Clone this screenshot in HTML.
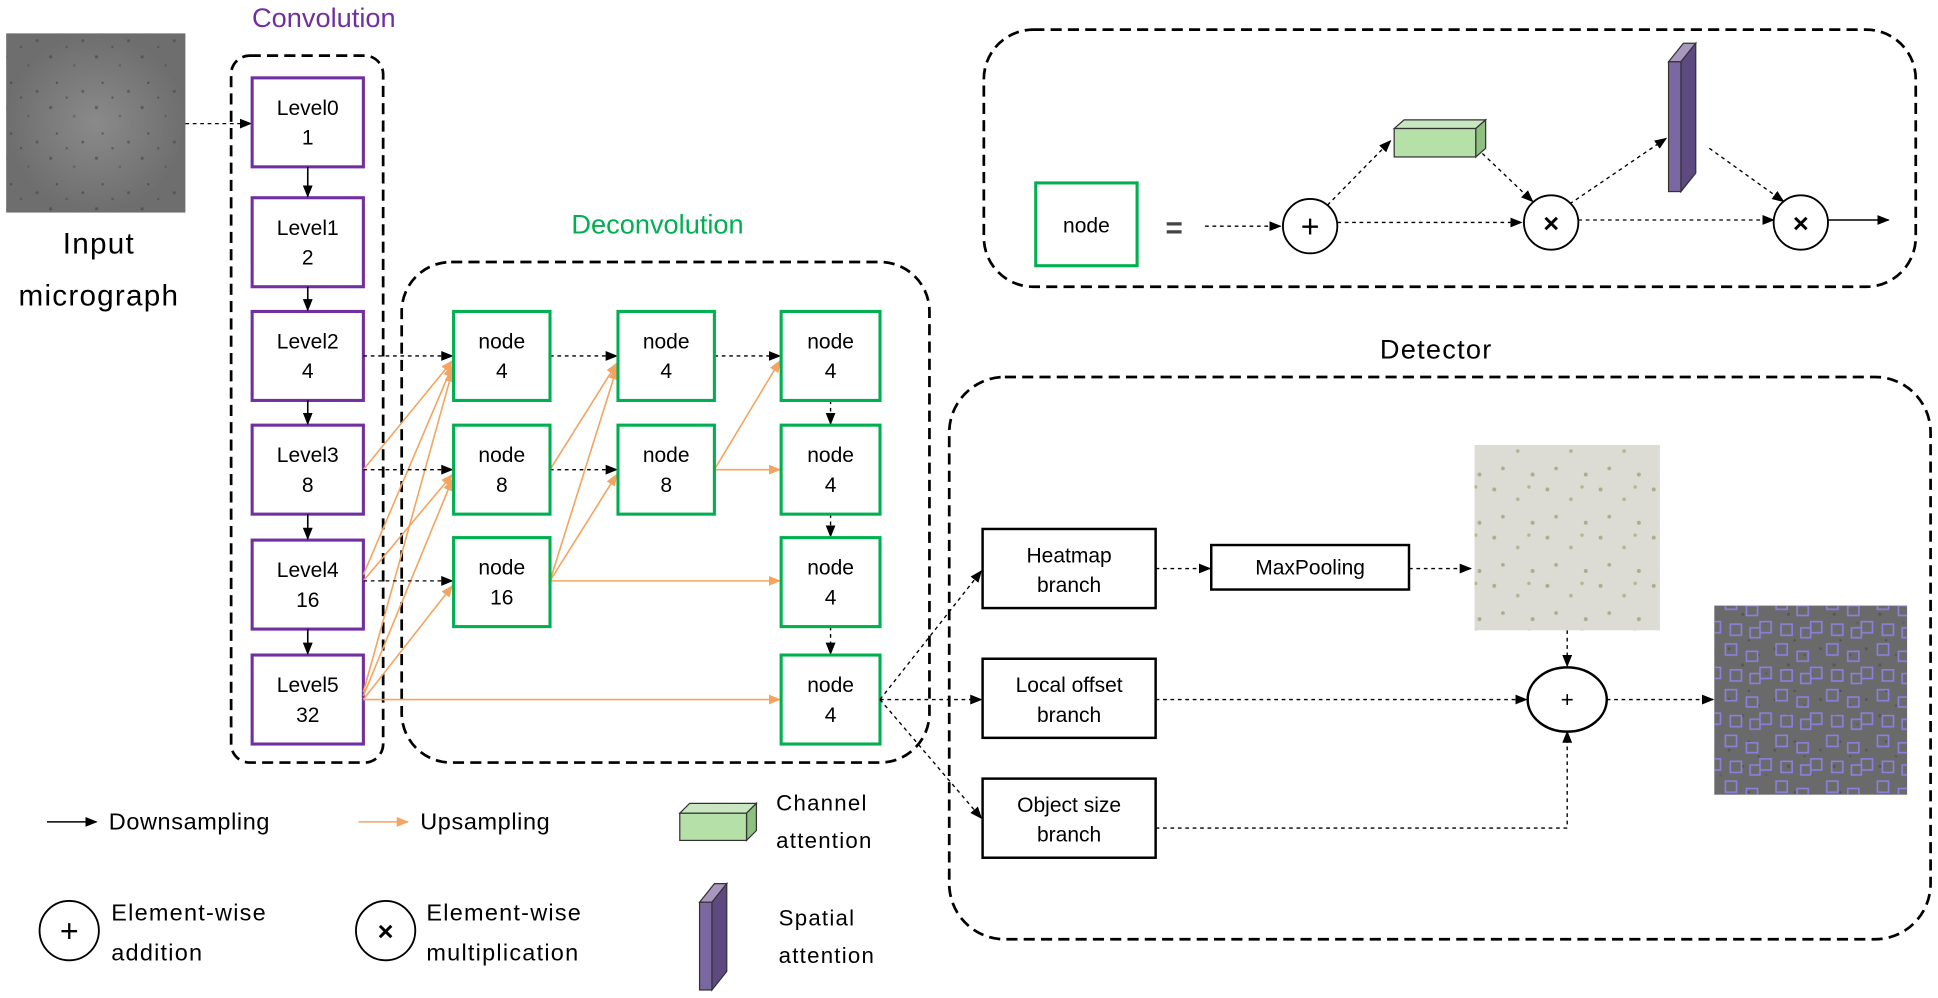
<!DOCTYPE html>
<html><head><meta charset="utf-8"><style>
html,body{margin:0;padding:0;background:#fff;}
svg{display:block;font-family:"Liberation Sans",Arial,sans-serif;}
</style></head><body>
<svg width="1938" height="998" viewBox="0 0 1568 807.5" preserveAspectRatio="none" xmlns="http://www.w3.org/2000/svg">
<defs>
<marker id="ab" markerWidth="10" markerHeight="8" refX="9" refY="4" orient="auto" markerUnits="userSpaceOnUse"><path d="M0,0 L10,4 L0,8 z" fill="#000"/></marker>
<marker id="ao" markerWidth="10" markerHeight="8" refX="9" refY="4" orient="auto" markerUnits="userSpaceOnUse"><path d="M0,0 L10,4 L0,8 z" fill="#f4a460"/></marker>
<radialGradient id="g1"><stop offset="0" stop-color="#8a8a8a"/><stop offset="1" stop-color="#6e6e6e"/></radialGradient>
<pattern id="dots" width="37" height="41" patternUnits="userSpaceOnUse"><circle cx="4" cy="5" r="1.3" fill="#444"/><circle cx="23" cy="12" r="1.1" fill="#555"/><circle cx="9" cy="26" r="0.9" fill="#333"/><circle cx="30" cy="33" r="1.2" fill="#444"/><circle cx="17" cy="38" r="1" fill="#444"/></pattern>
<pattern id="gdots" width="43" height="39" patternUnits="userSpaceOnUse"><circle cx="5" cy="6" r="1.6" fill="#a8b088"/><circle cx="24" cy="14" r="1.5" fill="#b0b890"/><circle cx="12" cy="28" r="1.5" fill="#a8b088"/><circle cx="36" cy="33" r="1.6" fill="#a8b088"/><circle cx="33" cy="4" r="1.4" fill="#b0b890"/></pattern>
<pattern id="sq" width="41" height="37" patternUnits="userSpaceOnUse" stroke="#8a80e0" stroke-width="1.3" fill="none"><rect x="2" y="3" width="9" height="9"/><rect x="19" y="9" width="9" height="8"/><rect x="30" y="22" width="9" height="9"/><rect x="6" y="24" width="9" height="9"/><rect x="22" y="27" width="8" height="8"/></pattern>
</defs>

<rect x="5" y="27" width="145" height="145" fill="url(#g1)"/>
<rect x="5" y="27" width="145" height="145" fill="url(#dots)" opacity="0.6"/>
<text x="80" y="205" font-size="24" text-anchor="middle" letter-spacing="1">Input</text>
<text x="80" y="247" font-size="24" text-anchor="middle" letter-spacing="1">micrograph</text>
<line x1="150" y1="100" x2="203" y2="100" stroke="#000" stroke-dasharray="3,3" marker-end="url(#ab)"/>

<text x="262" y="22" font-size="22" fill="#7030a0" text-anchor="middle">Convolution</text>
<rect x="187" y="45" width="123" height="572" rx="15" fill="none" stroke="#000" stroke-width="2.2" stroke-dasharray="9,5"/>
<g fill="#fff" stroke="#7030a0" stroke-width="2.5">
<rect x="204" y="63" width="90" height="72"/><rect x="204" y="160" width="90" height="72"/>
<rect x="204" y="252" width="90" height="72"/><rect x="204" y="344" width="90" height="72"/>
<rect x="204" y="437" width="90" height="72"/><rect x="204" y="530" width="90" height="72"/>
</g>
<g font-size="17" text-anchor="middle">
<text x="249" y="93">Level0</text><text x="249" y="117">1</text>
<text x="249" y="190">Level1</text><text x="249" y="214">2</text>
<text x="249" y="282">Level2</text><text x="249" y="306">4</text>
<text x="249" y="374">Level3</text><text x="249" y="398">8</text>
<text x="249" y="467">Level4</text><text x="249" y="491">16</text>
<text x="249" y="560">Level5</text><text x="249" y="584">32</text>
</g>
<g stroke="#000" stroke-width="1.3" marker-end="url(#ab)">
<line x1="249" y1="135" x2="249" y2="159"/><line x1="249" y1="232" x2="249" y2="251"/>
<line x1="249" y1="324" x2="249" y2="343"/><line x1="249" y1="416" x2="249" y2="436"/>
<line x1="249" y1="509" x2="249" y2="529"/>
</g>

<text x="532" y="189" font-size="22" fill="#00b050" text-anchor="middle">Deconvolution</text>
<rect x="325" y="212" width="427" height="405" rx="40" fill="none" stroke="#000" stroke-width="2.2" stroke-dasharray="9,5"/>

<g stroke="#f4a460" stroke-width="1.3" fill="none" marker-end="url(#ao)">
<line x1="294" y1="380" x2="366" y2="292"/>
<line x1="294" y1="465" x2="366" y2="296"/>
<line x1="294" y1="470" x2="366" y2="384"/>
<line x1="294" y1="560" x2="366" y2="300"/>
<line x1="294" y1="563" x2="366" y2="388"/>
<line x1="294" y1="566" x2="366" y2="474"/>
<line x1="294" y1="566" x2="631" y2="566"/>
<line x1="445" y1="380" x2="499" y2="294"/>
<line x1="445" y1="470" x2="499" y2="298"/>
<line x1="445" y1="470" x2="499" y2="384"/>
<line x1="445" y1="470" x2="631" y2="470"/>
<line x1="578" y1="380" x2="631" y2="292"/>
<line x1="578" y1="380" x2="631" y2="380"/>
</g>
<g stroke="#000" stroke-width="1.1" stroke-dasharray="3,3" marker-end="url(#ab)">
<line x1="294" y1="288" x2="366" y2="288"/>
<line x1="294" y1="380" x2="366" y2="380"/>
<line x1="294" y1="470" x2="366" y2="470"/>
<line x1="445" y1="288" x2="499" y2="288"/>
<line x1="445" y1="380" x2="499" y2="380"/>
<line x1="578" y1="288" x2="631" y2="288"/>
<line x1="672" y1="324" x2="672" y2="343"/>
<line x1="672" y1="416" x2="672" y2="434"/>
<line x1="672" y1="507" x2="672" y2="529"/>
</g>
<g fill="#fff" stroke="#00b050" stroke-width="2.5">
<rect x="367" y="252" width="78" height="72"/><rect x="367" y="344" width="78" height="72"/><rect x="367" y="435" width="78" height="72"/>
<rect x="500" y="252" width="78" height="72"/><rect x="500" y="344" width="78" height="72"/>
<rect x="632" y="252" width="80" height="72"/><rect x="632" y="344" width="80" height="72"/>
<rect x="632" y="435" width="80" height="72"/><rect x="632" y="530" width="80" height="72"/>
</g>
<g font-size="17" text-anchor="middle">
<text x="406" y="282">node</text><text x="406" y="306">4</text>
<text x="406" y="374">node</text><text x="406" y="398">8</text>
<text x="406" y="465">node</text><text x="406" y="489">16</text>
<text x="539" y="282">node</text><text x="539" y="306">4</text>
<text x="539" y="374">node</text><text x="539" y="398">8</text>
<text x="672" y="282">node</text><text x="672" y="306">4</text>
<text x="672" y="374">node</text><text x="672" y="398">4</text>
<text x="672" y="465">node</text><text x="672" y="489">4</text>
<text x="672" y="560">node</text><text x="672" y="584">4</text>
</g>

<rect x="796" y="24" width="754" height="208" rx="40" fill="none" stroke="#000" stroke-width="2.2" stroke-dasharray="9,5"/>
<rect x="838" y="148" width="82" height="67" fill="#fff" stroke="#00b050" stroke-width="2.5"/>
<text x="879" y="188" font-size="17" text-anchor="middle">node</text>
<text x="950" y="192" font-size="24" font-weight="bold" text-anchor="middle" fill="#444">=</text>
<g stroke="#000" stroke-width="1.1" stroke-dasharray="3,3" fill="none" marker-end="url(#ab)">
<line x1="975" y1="183" x2="1036" y2="183"/>
<line x1="1082" y1="180" x2="1231" y2="180"/>
<line x1="1074" y1="166" x2="1125" y2="114"/>
<line x1="1195" y1="120" x2="1240" y2="163"/>
<line x1="1277" y1="178" x2="1435" y2="178"/>
<line x1="1270" y1="165" x2="1348" y2="112"/>
<line x1="1383" y1="120" x2="1443" y2="163"/>
</g>
<line x1="1479" y1="178" x2="1528" y2="178" stroke="#000" stroke-width="1.3" marker-end="url(#ab)"/>
<circle cx="1060" cy="183" r="22" fill="#fff" stroke="#000" stroke-width="1.5"/>
<text x="1060" y="192" font-size="26" text-anchor="middle">+</text>
<circle cx="1255" cy="180" r="22" fill="#fff" stroke="#000" stroke-width="1.5"/>
<text x="1255" y="188" font-size="22" font-weight="bold" text-anchor="middle">×</text>
<circle cx="1457" cy="180" r="22" fill="#fff" stroke="#000" stroke-width="1.5"/>
<text x="1457" y="188" font-size="22" font-weight="bold" text-anchor="middle">×</text>
<g stroke="#333" stroke-width="1">
<polygon points="1128,104 1136,97 1202,97 1194,104" fill="#c8e6c0"/>
<polygon points="1194,104 1202,97 1202,120 1194,127" fill="#8cbf80"/>
<rect x="1128" y="104" width="66" height="23" fill="#b5e0a8"/>
</g>
<g stroke="#333" stroke-width="1">
<polygon points="1350,50 1362,35 1372,35 1360,50" fill="#a898c0"/>
<polygon points="1360,50 1372,35 1372,140 1360,155" fill="#5d4a80"/>
<rect x="1350" y="50" width="10" height="105" fill="#7b68a0"/>
</g>

<text x="1162" y="290" font-size="22" text-anchor="middle" letter-spacing="1">Detector</text>
<rect x="768" y="305" width="794" height="455" rx="45" fill="none" stroke="#000" stroke-width="2.2" stroke-dasharray="9,5"/>
<g fill="#fff" stroke="#000" stroke-width="2">
<rect x="795" y="428" width="140" height="64"/><rect x="795" y="533" width="140" height="64"/>
<rect x="795" y="630" width="140" height="64"/><rect x="980" y="441" width="160" height="36"/>
</g>
<g font-size="17" text-anchor="middle">
<text x="865" y="455">Heatmap</text><text x="865" y="479">branch</text>
<text x="865" y="560">Local offset</text><text x="865" y="584">branch</text>
<text x="865" y="657">Object size</text><text x="865" y="681">branch</text>
<text x="1060" y="465">MaxPooling</text>
</g>
<rect x="1193" y="360" width="150" height="150" fill="#dcdcd4"/>
<rect x="1193" y="360" width="150" height="150" fill="url(#gdots)"/>
<rect x="1387" y="490" width="156" height="153" fill="#6a6a6a"/>
<rect x="1387" y="490" width="156" height="153" fill="url(#dots)" opacity="0.5"/>
<rect x="1387" y="490" width="156" height="153" fill="url(#sq)"/>
<g stroke="#000" stroke-width="1.1" stroke-dasharray="3,3" fill="none" marker-end="url(#ab)">
<line x1="712" y1="566" x2="794" y2="462"/>
<line x1="712" y1="566" x2="794" y2="566"/>
<line x1="712" y1="566" x2="794" y2="662"/>
<line x1="935" y1="460" x2="979" y2="460"/>
<line x1="1140" y1="460" x2="1190" y2="460"/>
<line x1="1268" y1="510" x2="1268" y2="539"/>
<line x1="935" y1="566" x2="1235" y2="566"/>
<line x1="1300" y1="566" x2="1386" y2="566"/>
</g>
<polyline points="935,670 1268,670 1268,592" fill="none" stroke="#000" stroke-width="1.1" stroke-dasharray="3,3" marker-end="url(#ab)"/>
<ellipse cx="1268" cy="566" rx="32" ry="26" fill="#fff" stroke="#000" stroke-width="2"/>
<text x="1268" y="572" font-size="18" text-anchor="middle">+</text>

<line x1="38" y1="665" x2="78" y2="665" stroke="#000" stroke-width="1.3" marker-end="url(#ab)"/>
<text x="88" y="671" font-size="19" letter-spacing="0.5">Downsampling</text>
<line x1="290" y1="665" x2="330" y2="665" stroke="#f4a460" stroke-width="1.3" marker-end="url(#ao)"/>
<text x="340" y="671" font-size="19" letter-spacing="0.5">Upsampling</text>
<g stroke="#333" stroke-width="1">
<polygon points="550,658 558,650 612,650 604,658" fill="#c8e6c0"/>
<polygon points="604,658 612,650 612,672 604,680" fill="#8cbf80"/>
<rect x="550" y="658" width="54" height="22" fill="#b5e0a8"/>
</g>
<text x="628" y="656" font-size="18" letter-spacing="1">Channel</text>
<text x="628" y="686" font-size="18" letter-spacing="1">attention</text>
<circle cx="56" cy="753" r="24" fill="#fff" stroke="#000" stroke-width="1.5"/>
<text x="56" y="762" font-size="26" text-anchor="middle">+</text>
<text x="90" y="745" font-size="19" letter-spacing="1">Element-wise</text>
<text x="90" y="777" font-size="19" letter-spacing="1">addition</text>
<circle cx="312" cy="753" r="24" fill="#fff" stroke="#000" stroke-width="1.5"/>
<text x="312" y="761" font-size="22" font-weight="bold" text-anchor="middle">×</text>
<text x="345" y="745" font-size="19" letter-spacing="1">Element-wise</text>
<text x="345" y="777" font-size="19" letter-spacing="1">multiplication</text>
<g stroke="#333" stroke-width="1">
<polygon points="566,730 578,715 588,715 576,730" fill="#a898c0"/>
<polygon points="576,730 588,715 588,786 576,801" fill="#5d4a80"/>
<rect x="566" y="730" width="10" height="71" fill="#7b68a0"/>
</g>
<text x="630" y="749" font-size="18" letter-spacing="1">Spatial</text>
<text x="630" y="779" font-size="18" letter-spacing="1">attention</text>
</svg>
</body></html>
